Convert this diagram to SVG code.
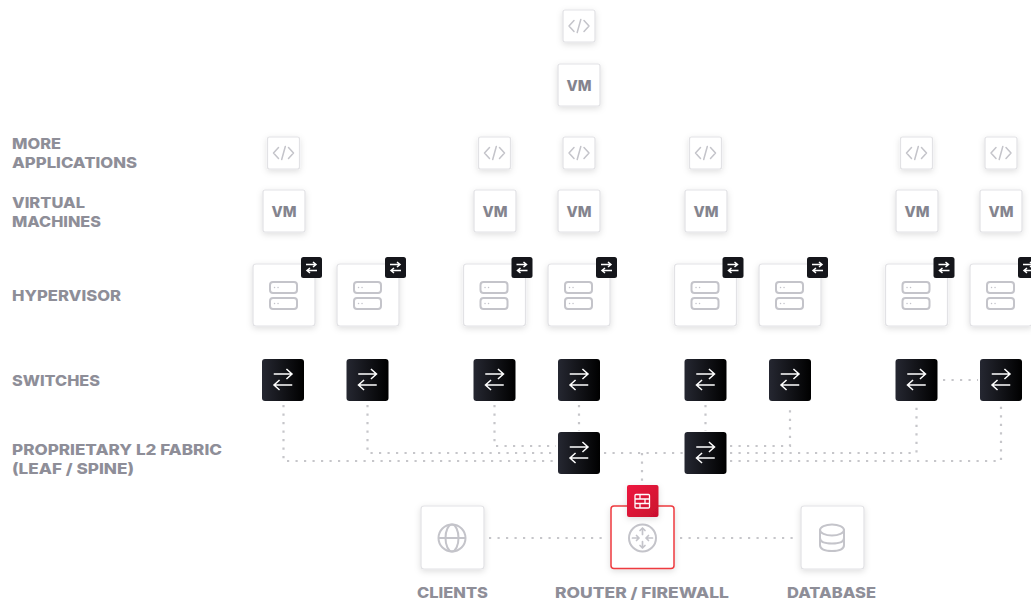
<svg xmlns="http://www.w3.org/2000/svg" width="1031" height="601" viewBox="0 0 1031 601">
<style>
.lbl{font-family:Inter,"Liberation Sans",sans-serif;font-weight:800;font-size:15px;fill:#8e8e98}
.vm{font-family:Inter,"Liberation Sans",sans-serif;font-weight:800;font-size:15px;fill:#84848e;text-anchor:middle}
.card{fill:#fff;stroke:#e2e2e5;stroke-width:1.2;filter:url(#sh)}
.ic{fill:none;stroke:#c4c4ca;stroke-width:2;stroke-linecap:round;stroke-linejoin:round}
.ar{fill:none;stroke:#fff;stroke-width:1.500;stroke-linecap:square}
.dot{fill:none;stroke:#c6c6ca;stroke-width:2.200;stroke-dasharray:2.200 6.300}
</style>
<defs>
<linearGradient id="blk"><stop offset="0" stop-color="#252731"/><stop offset="1" stop-color="#000"/></linearGradient>
<linearGradient id="red" x1="0" y1="0" x2="1" y2="1"><stop offset="0" stop-color="#ee1a3f"/><stop offset="1" stop-color="#c9102e"/></linearGradient>
<filter id="sh" x="-30%" y="-30%" width="160%" height="170%"><feDropShadow dx="0" dy="2" stdDeviation="3" flood-color="#000" flood-opacity=".13"/></filter>
<g id="app"><rect class="card" x="-16" y="-16" width="32" height="32" rx="2"/><path class="ic" style="stroke-width:1.500" d="M-5 -5.500L-10 0L-5 5.500M5 -5.500L10 0L5 5.500M1.800 -6.500L-1.800 6.500"/></g>
<g id="vmb"><rect class="card" x="-21" y="-21" width="42" height="42" rx="2"/><text class="vm" x="0" y="5.500" textLength="25" lengthAdjust="spacingAndGlyphs">VM</text></g>
<g id="sw"><rect x="-21" y="-21" width="42" height="42" rx="3" fill="url(#blk)"/><path class="ar" d="M-8.500 -6H8.500M4 -10.500L9 -6L4 -1.500M8.500 5H-8.500M-4 0.500L-9 5L-4 9.500"/></g>
<g id="hyp"><rect class="card" x="-31" y="-31" width="62" height="62" rx="3"/><rect class="ic" x="-14" y="-13" width="27" height="11" rx="3"/><rect class="ic" x="-14" y="3" width="27" height="11" rx="3"/><path d="M-9.500 -7.500h.1M-6 -7.500h.1M-9.500 8.500h.1M-6 8.500h.1" fill="none" stroke="#c4c4ca" stroke-width="1.400" stroke-linecap="round"/>
<rect x="17" y="-38" width="21" height="21" rx="2.500" fill="#15161b"/><path d="M22 -30.500H32M29 -33L32 -30.500L29 -28M33 -24.500H23M26 -27L23 -24.500L26 -22" fill="none" stroke="#fff" stroke-width="1.500"/></g>
</defs>
<g id="connectors" class="dot">
<path d="M283.500 405V461H556"/><path d="M367.500 405V453H556"/><path d="M494.500 405V446H556"/>
<path d="M579 405V431"/><path d="M705.500 405V431"/>
<path d="M730 446H790V405"/><path d="M730 453H916.500V405"/><path d="M730 461H1001V405"/>
<path d="M604 453H683"/><path d="M642 453V484"/>
<path d="M943 380H978"/>
<path d="M489 538H606"/><path d="M680 538H796"/>
</g>
<g id="label-apps"><text class="lbl" x="12" y="148.500" textLength="49" lengthAdjust="spacingAndGlyphs">MORE</text><text class="lbl" x="12" y="167.500" textLength="125" lengthAdjust="spacingAndGlyphs">APPLICATIONS</text></g>
<g id="label-vms"><text class="lbl" x="12" y="207.500" textLength="73" lengthAdjust="spacingAndGlyphs">VIRTUAL</text><text class="lbl" x="12" y="226.500" textLength="89" lengthAdjust="spacingAndGlyphs">MACHINES</text></g>
<g id="label-hyp"><text class="lbl" x="12" y="300.500" textLength="109" lengthAdjust="spacingAndGlyphs">HYPERVISOR</text></g>
<g id="label-sw"><text class="lbl" x="12" y="385.500" textLength="88" lengthAdjust="spacingAndGlyphs">SWITCHES</text></g>
<g id="label-fabric"><text class="lbl" x="12" y="454.500" textLength="210" lengthAdjust="spacingAndGlyphs">PROPRIETARY L2 FABRIC</text><text class="lbl" x="12" y="473.500" textLength="122" lengthAdjust="spacingAndGlyphs">(LEAF / SPINE)</text></g>
<g id="app-top"><use href="#app" x="579" y="26"/></g>
<g id="vm-top"><use href="#vmb" x="579" y="85"/></g>
<g id="app-1"><use href="#app" x="283.500" y="153"/></g>
<g id="app-2"><use href="#app" x="494.500" y="153"/></g>
<g id="app-3"><use href="#app" x="579" y="153"/></g>
<g id="app-4"><use href="#app" x="705.500" y="153"/></g>
<g id="app-5"><use href="#app" x="916.500" y="153"/></g>
<g id="app-6"><use href="#app" x="1001" y="153"/></g>
<g id="vm-1"><use href="#vmb" x="284" y="211"/></g>
<g id="vm-2"><use href="#vmb" x="495" y="211"/></g>
<g id="vm-3"><use href="#vmb" x="579" y="211"/></g>
<g id="vm-4"><use href="#vmb" x="706" y="211"/></g>
<g id="vm-5"><use href="#vmb" x="917" y="211"/></g>
<g id="vm-6"><use href="#vmb" x="1001" y="211"/></g>
<g id="hyp-1"><use href="#hyp" x="284" y="295"/></g>
<g id="hyp-2"><use href="#hyp" x="368" y="295"/></g>
<g id="hyp-3"><use href="#hyp" x="494.500" y="295"/></g>
<g id="hyp-4"><use href="#hyp" x="579" y="295"/></g>
<g id="hyp-5"><use href="#hyp" x="705.500" y="295"/></g>
<g id="hyp-6"><use href="#hyp" x="790" y="295"/></g>
<g id="hyp-7"><use href="#hyp" x="916.500" y="295"/></g>
<g id="hyp-8"><use href="#hyp" x="1001" y="295"/></g>
<g id="sw-1"><use href="#sw" x="283" y="380"/></g>
<g id="sw-2"><use href="#sw" x="367.500" y="380"/></g>
<g id="sw-3"><use href="#sw" x="494.500" y="380"/></g>
<g id="sw-4"><use href="#sw" x="579" y="380"/></g>
<g id="sw-5"><use href="#sw" x="705.500" y="380"/></g>
<g id="sw-6"><use href="#sw" x="790" y="380"/></g>
<g id="sw-7"><use href="#sw" x="916.500" y="380"/></g>
<g id="sw-8"><use href="#sw" x="1001" y="380"/></g>
<g id="spine-1"><use href="#sw" x="579" y="453"/></g>
<g id="spine-2"><use href="#sw" x="705.500" y="453"/></g>
<g id="clients"><rect class="card" x="421" y="506" width="63" height="63" rx="3"/><g class="ic"><circle cx="452" cy="538" r="13.500"/><ellipse cx="452" cy="538" rx="6.500" ry="13.500"/><path d="M439 538H465"/></g>
<text class="lbl" x="417" y="597.500" textLength="71" lengthAdjust="spacingAndGlyphs">CLIENTS</text></g>
<g id="router"><rect x="611" y="506" width="63" height="62.500" rx="3" fill="#fff" stroke="#ee3b3f" stroke-width="1.500" filter="url(#sh)"/><g class="ic"><circle cx="642.500" cy="538" r="13.500"/><path style="stroke-width:1.700" d="M642.500 528V534.500M640 530.500L642.500 528L645 530.500M642.500 548V541.500M640 545.500L642.500 548L645 545.500M632.500 538H639M636.500 535.500L639 538L636.500 540.500M652.500 538H646M648.500 535.500L646 538L648.500 540.500"/></g>
<text class="lbl" x="555" y="597.500" textLength="174" lengthAdjust="spacingAndGlyphs">ROUTER / FIREWALL</text></g>
<g id="firewall"><rect x="627" y="485" width="31.500" height="32" rx="2" fill="url(#red)" filter="url(#sh)"/><path d="M636 494.500h12.500a1 1 0 0 1 1 1v11.500a1 1 0 0 1 -1 1h-12.500a1 1 0 0 1 -1 -1v-11.500a1 1 0 0 1 1 -1zM635 499H649.500M635 503.500H649.500M640 494.500V499M645 499V503.500M640 503.500V508" fill="none" stroke="#fff" stroke-width="1.300"/></g>
<g id="database"><rect class="card" x="801" y="506" width="63" height="63" rx="3"/><g class="ic"><ellipse cx="832" cy="530" rx="12" ry="5.500"/><path d="M820 530V545C820 549 825 551 832 551S844 549 844 545V530M820 538C820 541.500 825 543.500 832 543.500S844 541.500 844 538"/></g>
<text class="lbl" x="787" y="597.500" textLength="89" lengthAdjust="spacingAndGlyphs">DATABASE</text></g>
</svg>
